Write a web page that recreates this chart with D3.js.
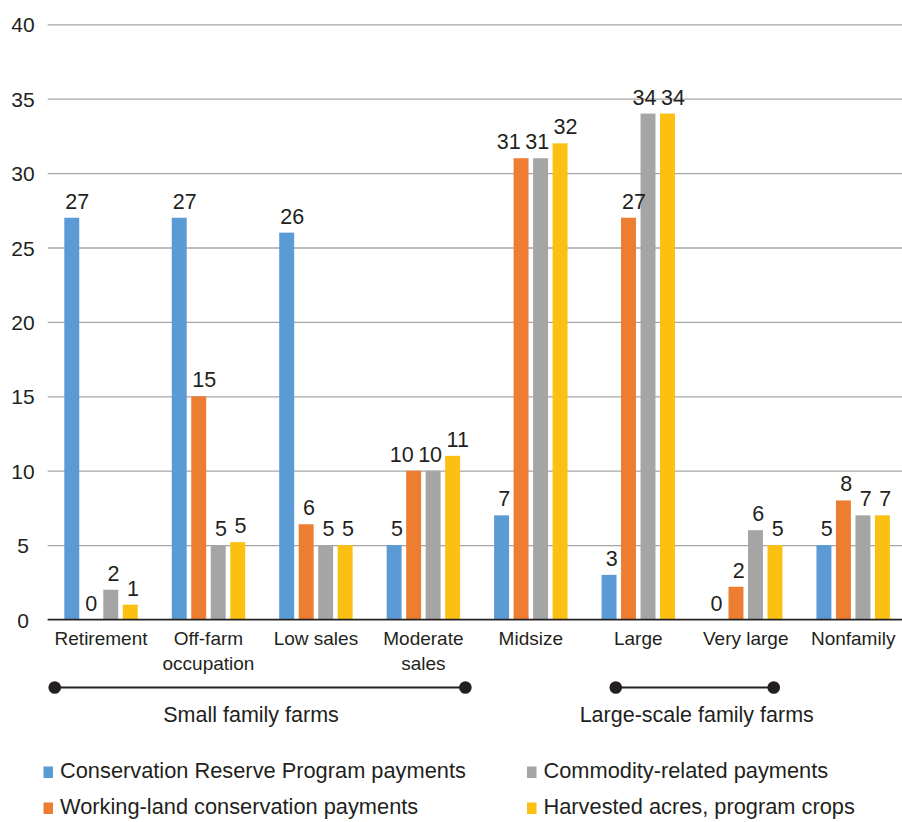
<!DOCTYPE html>
<html>
<head>
<meta charset="utf-8">
<script src="https://cdn.jsdelivr.net/npm/d3@7"></script>
<style>
  html, body { margin: 0; padding: 0; background: #fff; }
  svg { display: block; font-family: "Liberation Sans", Arial, Helvetica, sans-serif; }
</style>
</head>
<body>
<svg id="chart" width="902" height="822"></svg>
<script>
// ---------------- data ----------------
const categories = ["Retirement", "Off-farm\noccupation", "Low sales", "Moderate\nsales",
                    "Midsize", "Large", "Very large", "Nonfamily"];
const seriesNames = ["Conservation Reserve Program payments", "Working-land conservation payments",
                     "Commodity-related payments", "Harvested acres, program crops"];
const crpPayments        = [27, 27, 26, 5, 7, 3, 0, 5];
const workingLandPayments = [0, 15, 6.4, 10, 31, 27, 2.2, 8];
const commodityPayments  = [2, 5, 5, 10, 31, 34, 6, 7];
const harvestedAcres     = [1, 5.2, 5, 11, 32, 34, 5, 7];
const yTicks = [0, 5, 10, 15, 20, 25, 30, 35, 40];
const groupLabels = ["Small family farms", "Large-scale family farms"];
const groupSpans = [["Retirement", "Moderate\nsales"], ["Large", "Very large"]];

const seriesValues = [crpPayments, workingLandPayments, commodityPayments, harvestedAcres];
const colors = ["#5B9BD5", "#ED7D31", "#A5A5A5", "#FCC012"];
const textColor = "#231f20";

// ---------------- layout ----------------
const svg = d3.select("#chart");
const plotLeft = 47.7, plotRight = 906.5, plotTop = 24.3, plotBottom = 619.5;

const x0 = d3.scaleBand().domain(categories).range([plotLeft, plotRight])
  .paddingInner(0.3166).paddingOuter(0.1546);
const x1 = d3.scaleBand().domain(d3.range(seriesNames.length)).range([0, x0.bandwidth()])
  .paddingInner(0.233).paddingOuter(0);
const y = d3.scaleLinear().domain([0, 40]).range([plotBottom, plotTop]);

// grid + y labels
const yAxis = d3.axisLeft(y).tickValues(yTicks).tickSize(-(902 - plotLeft)).tickFormat(d3.format("d"));
const gy = svg.append("g").attr("transform", `translate(${plotLeft},0)`).call(yAxis);
gy.select(".domain").remove();
gy.selectAll(".tick line").attr("stroke", "#a6a6a6").attr("stroke-width", 1.3);
gy.selectAll(".tick text")
  .attr("x", 23 - plotLeft).attr("dy", null).attr("y", 7.5)
  .attr("text-anchor", "middle")
  .attr("font-size", 21).attr("fill", textColor)
  .style("font-family", "'Liberation Sans', Arial, sans-serif");

// bars
const rows = categories.map((c, i) => ({ cat: c, vals: seriesValues.map(s => s[i]) }));
const groups = svg.append("g").selectAll("g").data(rows).join("g")
  .attr("transform", d => `translate(${x0(d.cat)},0)`);

groups.selectAll("rect").data(d => d.vals.map((v, k) => ({ v, k }))).join("rect")
  .attr("x", d => x1(d.k))
  .attr("width", x1.bandwidth())
  .attr("y", d => y(d.v))
  .attr("height", d => y(0) - y(d.v))
  .attr("fill", d => colors[d.k]);

// x axis line at zero
svg.append("line").attr("x1", plotLeft).attr("x2", 902).attr("y1", y(0)).attr("y2", y(0))
  .attr("stroke", textColor).attr("stroke-width", 1.6);

// value labels with simple overlap avoidance
groups.each(function(d) {
  const g = d3.select(this);
  const labels = d.vals.map((v, k) => {
    const txt = d3.format(".0f")(v);
    const t = g.append("text").text(txt)
      .attr("font-size", 21.5).attr("fill", textColor)
      .attr("text-anchor", "middle")
      .attr("y", y(v) - 9);
    const w = t.node().getComputedTextLength();
    const cx = x1(k) + x1.bandwidth() / 2 + (v === 0 ? 0 : w * 0.23);
    return { t, w, cx };
  });
  for (let k = labels.length - 2; k >= 0; k--) {
    const a = labels[k], b = labels[k + 1];
    const gap = 4.5;
    const maxRight = b.cx - b.w / 2 - gap;
    if (a.cx + a.w / 2 > maxRight && Math.abs(+a.t.attr("y") - +b.t.attr("y")) < 22) {
      a.cx = maxRight - a.w / 2;
    }
  }
  labels.forEach(l => l.t.attr("x", l.cx));
});

// category labels
const catG = svg.append("g");
categories.forEach(c => {
  const t = catG.append("text")
    .attr("x", x0(c) + x0.bandwidth() / 2)
    .attr("y", 644.5)
    .attr("text-anchor", "middle")
    .attr("font-size", 19).attr("fill", textColor);
  c.split("\n").forEach((line, i) => {
    t.append("tspan").attr("x", x0(c) + x0.bandwidth() / 2).attr("dy", i === 0 ? 0 : 25.5).text(line);
  });
});

// group brackets
const bracketOffsets = [[-46.3, 42], [-22.5, 28]];
const bracketTextDx = [-9, 2];
groupLabels.forEach((lab, i) => {
  const [a, b] = groupSpans[i];
  const xa = x0(a) + x0.bandwidth() / 2 + bracketOffsets[i][0];
  const xb = x0(b) + x0.bandwidth() / 2 + bracketOffsets[i][1];
  const yy = 687.5;
  svg.append("line").attr("x1", xa).attr("x2", xb).attr("y1", yy).attr("y2", yy)
    .attr("stroke", textColor).attr("stroke-width", 2);
  [xa, xb].forEach(xx => svg.append("circle").attr("cx", xx).attr("cy", yy).attr("r", 6.3).attr("fill", textColor));
  svg.append("text").attr("x", (xa + xb) / 2 + bracketTextDx[i]).attr("y", 722)
    .attr("text-anchor", "middle").attr("font-size", 21.5).attr("fill", textColor).text(lab);
});

// legend
const legendPos = [[43.5, 778], [43.5, 814], [527, 778], [527, 814]];
seriesNames.forEach((name, k) => {
  const [lx, ly] = legendPos[k];
  svg.append("rect").attr("x", lx).attr("y", ly - 11.5).attr("width", 9.5).attr("height", 11.5)
    .attr("fill", colors[k]);
  svg.append("text").attr("x", lx + 16.5).attr("y", ly)
    .attr("font-size", 21.8).attr("fill", textColor).text(name);
});
</script>
</body>
</html>
